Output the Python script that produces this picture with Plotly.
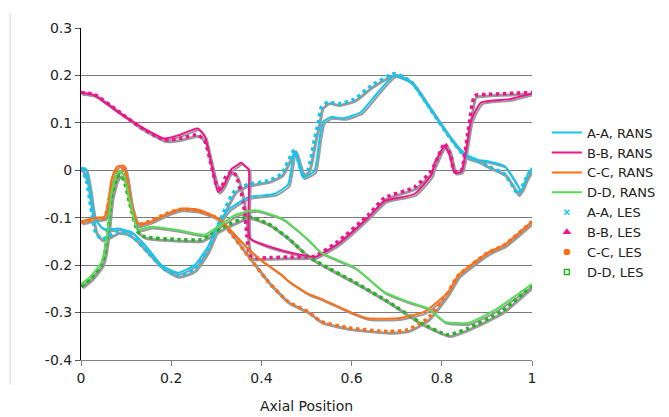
import plotly.graph_objects as go

# ---------------- data ----------------
aa_rans_x = [0, 0.01, 0.02, 0.03, 0.045, 0.06, 0.082, 0.1, 0.111, 0.141, 0.178, 0.215, 0.252, 0.282, 0.304, 0.326,
             0.37, 0.429, 0.459, 0.473, 0.482, 0.492, 0.505, 0.518, 0.529, 0.537, 0.554, 0.584, 0.621, 0.658, 0.695,
             0.732, 0.769, 0.814, 0.851, 0.88, 0.902, 0.939, 0.96, 0.976, 0.99, 1.0]
aa_rans_y = [0.005, 0.004, -0.04, -0.10, -0.12, -0.125, -0.123, -0.127, -0.13, -0.157, -0.2, -0.216, -0.2, -0.16,
             -0.115, -0.084, -0.057, -0.05, -0.03, 0.04, 0.015, -0.015, -0.01, -0.001, 0.067, 0.102, 0.112, 0.11,
             0.123, 0.164, 0.2, 0.185, 0.137, 0.075, 0.035, 0.022, 0.019, 0.009, -0.02, -0.043, -0.01, 0.005]

bb_rans_x = [0, 0.03, 0.082, 0.133, 0.185, 0.22, 0.259, 0.275, 0.289, 0.304, 0.318, 0.333, 0.345, 0.355, 0.365,
             0.372, 0.374, 0.40, 0.45, 0.503, 0.518, 0.57, 0.636, 0.673, 0.739, 0.777, 0.784, 0.806, 0.818, 0.828,
             0.843, 0.855, 0.865, 0.887, 0.95, 1.0]
bb_rans_y = [0.164, 0.158, 0.123, 0.092, 0.067, 0.075, 0.088, 0.07, 0.012, -0.046, -0.03, 0.002, 0.01, 0.016, 0.008,
             0.002, -0.143, -0.155, -0.17, -0.181, -0.183, -0.155, -0.10, -0.065, -0.05, -0.01, 0.015, 0.05, 0.03,
             -0.005, -0.003, 0.05, 0.105, 0.143, 0.15, 0.162]

cc_rans_x = [0, 0.03, 0.052, 0.06, 0.067, 0.075, 0.082, 0.096, 0.104, 0.111, 0.126, 0.15, 0.193, 0.222, 0.26, 0.282,
             0.31, 0.34, 0.37, 0.4, 0.444, 0.459, 0.503, 0.533, 0.6, 0.636, 0.703, 0.762, 0.814, 0.836, 0.902, 0.939, 1.0]
cc_rans_y = [-0.108, -0.1, -0.098, -0.07, -0.022, 0.0, 0.009, 0.009, -0.03, -0.07, -0.112, -0.11, -0.091, -0.081,
             -0.083, -0.091, -0.105, -0.135, -0.165, -0.19, -0.22, -0.233, -0.26, -0.271, -0.3, -0.312, -0.312,
             -0.298, -0.257, -0.222, -0.174, -0.157, -0.108]

dd_rans_x = [0, 0.02, 0.045, 0.052, 0.06, 0.067, 0.078, 0.086, 0.095, 0.108, 0.126, 0.155, 0.215, 0.274, 0.31, 0.34,
             0.385, 0.444, 0.503, 0.533, 0.607, 0.673, 0.725, 0.769, 0.806, 0.858, 0.917, 1.0]
dd_rans_y = [-0.24, -0.225, -0.195, -0.17, -0.119, -0.05, -0.01, -0.001, -0.01, -0.064, -0.125, -0.119, -0.126,
             -0.136, -0.115, -0.095, -0.084, -0.101, -0.146, -0.174, -0.205, -0.257, -0.277, -0.291, -0.319, -0.322,
             -0.295, -0.24]

aa_les_x = [0, 0.012, 0.022, 0.032, 0.045, 0.06, 0.08, 0.1, 0.12, 0.15, 0.18, 0.215, 0.25, 0.28, 0.3, 0.32, 0.341,
            0.37, 0.415, 0.444, 0.473, 0.482, 0.492, 0.503, 0.51, 0.518, 0.525, 0.533, 0.548, 0.57, 0.606, 0.643,
            0.695, 0.732, 0.769, 0.814, 0.851, 0.88, 0.902, 0.939, 0.955, 0.969, 0.985, 1.0]
aa_les_y = [0.005, -0.02, -0.08, -0.13, -0.145, -0.14, -0.13, -0.132, -0.145, -0.175, -0.205, -0.222, -0.21, -0.17,
            -0.125, -0.08, -0.043, -0.03, -0.022, -0.008, 0.043, 0.02, -0.008, 0.0, 0.026, 0.067, 0.095, 0.133,
            0.144, 0.14, 0.15, 0.178, 0.204, 0.187, 0.137, 0.074, 0.03, 0.02, 0.009, -0.008, -0.03, -0.05, -0.02, 0.005]

bb_les_x = [0, 0.03, 0.082, 0.133, 0.185, 0.22, 0.259, 0.275, 0.289, 0.3, 0.31, 0.32, 0.335, 0.344, 0.355, 0.363,
            0.368, 0.372, 0.378, 0.42, 0.46, 0.518, 0.57, 0.636, 0.673, 0.739, 0.777, 0.79, 0.806, 0.818, 0.828,
            0.843, 0.858, 0.873, 0.9, 1.0]
bb_les_y = [0.164, 0.16, 0.125, 0.09, 0.064, 0.067, 0.075, 0.06, 0.01, -0.03, -0.04, -0.015, -0.002, -0.012, -0.045,
            -0.09, -0.14, -0.17, -0.184, -0.184, -0.183, -0.181, -0.15, -0.095, -0.058, -0.036, -0.001, 0.025,
            0.057, 0.035, -0.002, 0.0, 0.08, 0.157, 0.16, 0.164]

cc_les_x = [0, 0.03, 0.052, 0.067, 0.082, 0.096, 0.111, 0.126, 0.15, 0.193, 0.222, 0.26, 0.3, 0.33, 0.37, 0.415,
            0.459, 0.503, 0.533, 0.6, 0.681, 0.725, 0.769, 0.814, 0.836, 0.902, 0.939, 1.0]
cc_les_y = [-0.11, -0.103, -0.1, -0.04, 0.0, 0.003, -0.075, -0.115, -0.108, -0.09, -0.082, -0.085, -0.1, -0.13,
            -0.18, -0.235, -0.277, -0.298, -0.319, -0.333, -0.34, -0.336, -0.312, -0.257, -0.222, -0.174, -0.157, -0.108]

dd_les_x = [0, 0.02, 0.045, 0.052, 0.06, 0.067, 0.078, 0.086, 0.095, 0.108, 0.126, 0.141, 0.215, 0.267, 0.318, 0.37,
            0.414, 0.459, 0.503, 0.533, 0.607, 0.681, 0.754, 0.814, 0.858, 0.932, 1.0]
dd_les_y = [-0.245, -0.23, -0.2, -0.178, -0.125, -0.06, -0.02, -0.01, -0.02, -0.07, -0.13, -0.14, -0.146, -0.146,
            -0.119, -0.098, -0.112, -0.143, -0.181, -0.198, -0.236, -0.277, -0.322, -0.347, -0.333, -0.298, -0.243]

x_ticks = [0, 0.2, 0.4, 0.6, 0.8, 1.0]
x_tick_labels = ["0", "0.2", "0.4", "0.6", "0.8", "1"]
y_ticks = [0.3, 0.2, 0.1, 0.0, -0.1, -0.2, -0.3, -0.4]
y_tick_labels = ["0.3", "0.2", "0.1", "0", "-0.1", "-0.2", "-0.3", "-0.4"]

# ---------------- styling ----------------
CYAN = "#12C6F0"
MAGENTA = "#F0148C"
ORANGE = "#FF6E14"
LGREEN = "#55DD55"
DGREEN = "#22B422"
SHADOW = "#9A9A9A"
FONT = "DejaVu Sans"
TXT = "#222222"
X_RANGE = [0, 1]
Y_RANGE = [-0.4, 0.3]

rans = [("A-A, RANS", aa_rans_x, aa_rans_y, CYAN),
        ("B-B, RANS", bb_rans_x, bb_rans_y, MAGENTA),
        ("C-C, RANS", cc_rans_x, cc_rans_y, ORANGE),
        ("D-D, RANS", dd_rans_x, dd_rans_y, LGREEN)]
les = [("A-A, LES", aa_les_x, aa_les_y, CYAN, "x-thin-open"),
       ("B-B, LES", bb_les_x, bb_les_y, MAGENTA, "triangle-up"),
       ("C-C, LES", cc_les_x, cc_les_y, ORANGE, "circle"),
       ("D-D, LES", dd_les_x, dd_les_y, DGREEN, "square-open")]

fig = go.Figure()

# empty trace so the base subplot (visible axes, grid) exists
fig.add_trace(go.Scatter(x=[None], y=[None], mode="lines", showlegend=False, hoverinfo="skip"))

# shadows: drawn on overlay axes x2/y2 whose ranges are nudged so the copy sits ~1.5 px right/down
for name, xs, ys, col in rans:
    fig.add_trace(go.Scatter(x=xs, y=ys, mode="lines", xaxis="x2", yaxis="y2",
                             line=dict(color=SHADOW, width=2, shape="spline", smoothing=0.5),
                             showlegend=False, hoverinfo="skip"))
for name, xs, ys, col, sym in les:
    fig.add_trace(go.Scatter(x=xs, y=ys, mode="lines", xaxis="x2", yaxis="y2",
                             line=dict(color=SHADOW, width=3, shape="spline", smoothing=0.5),
                             showlegend=False, hoverinfo="skip"))

# LES as densely packed markers (dotted thick line), on overlay x3/y3 (same scale as main axes)
for name, xs, ys, col, sym in les:
    fig.add_trace(go.Scatter(x=xs, y=ys, mode="lines", xaxis="x3", yaxis="y3",
                             line=dict(color=col, width=3.5, dash="dot", shape="spline", smoothing=0.5),
                             showlegend=False))
# RANS lines
for i, (name, xs, ys, col) in enumerate(rans):
    fig.add_trace(go.Scatter(x=xs, y=ys, mode="lines", name=name, xaxis="x3", yaxis="y3",
                             line=dict(color=col, width=2, shape="spline", smoothing=0.5),
                             legendrank=i + 1))
# legend entries for LES
for i, (name, xs, ys, col, sym) in enumerate(les):
    fig.add_trace(go.Scatter(x=[None], y=[None], mode="markers", name=name, xaxis="x3", yaxis="y3",
                             marker=dict(color=col, symbol=sym, size=5, line=dict(color=col, width=1.5)),
                             legendrank=10 + i))

fig.update_layout(
    width=669, height=417,
    margin=dict(l=73, r=145, t=15, b=65),
    paper_bgcolor="white", plot_bgcolor="white",
    font=dict(family=FONT, size=13, color=TXT),
    showlegend=True,
    legend=dict(x=1.033, y=0.73, xanchor="left", yanchor="top",
                font=dict(family=FONT, size=13, color=TXT),
                bgcolor="rgba(0,0,0,0)", tracegroupgap=0),
    xaxis=dict(range=X_RANGE, tickvals=x_ticks, ticktext=x_tick_labels,
               showgrid=False, zeroline=False, showline=True, linecolor="#808080", linewidth=1,
               ticks="outside", ticklen=5, tickcolor="#808080",
               tickfont=dict(family=FONT, size=14, color=TXT),
               title=dict(text="Axial Position", font=dict(family=FONT, size=14, color=TXT), standoff=16)),
    yaxis=dict(range=Y_RANGE, tickvals=y_ticks, ticktext=y_tick_labels,
               showgrid=True, gridcolor="#7a7a7a", gridwidth=1, zeroline=False,
               showline=True, linecolor="black", linewidth=1,
               ticks="outside", ticklen=5, tickcolor="#555",
               tickfont=dict(family=FONT, size=14, color=TXT)),
    xaxis2=dict(range=[X_RANGE[0] - 0.0035, X_RANGE[1] - 0.0035], overlaying="x", visible=False),
    yaxis2=dict(range=[Y_RANGE[0] + 0.0035, Y_RANGE[1] + 0.0035], overlaying="y", visible=False),
    xaxis3=dict(range=X_RANGE, overlaying="x", visible=False),
    yaxis3=dict(range=Y_RANGE, overlaying="y", visible=False),
    shapes=[dict(type="line", xref="paper", yref="paper", x0=-0.157, x1=-0.157, y0=-0.074, y1=1.045,
                 line=dict(color="#e4e4e4", width=1.5))],
)

fig.write_html("out.html")
